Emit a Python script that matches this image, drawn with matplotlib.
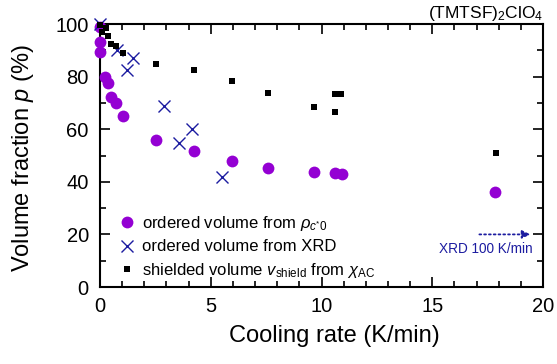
import numpy as np
import matplotlib.pyplot as plt
from matplotlib.ticker import MultipleLocator

plt.rcParams['font.family'] = ['Liberation Sans', 'DejaVu Sans']
plt.rcParams['mathtext.fontset'] = 'custom'
plt.rcParams['mathtext.rm'] = 'Liberation Sans'
plt.rcParams['mathtext.it'] = 'Liberation Sans:italic'

# ordered volume from rho (purple circles)
rate_rho = [0, 0, 0, 0.23, 0.36, 0.5, 0.72, 1.04, 2.51, 4.23, 5.96, 7.57, 9.65, 10.6, 10.93, 17.85]
p_rho = [99, 93, 89.5, 80, 77.5, 72.2, 70, 65, 56, 51.6, 48, 45.1, 43.7, 43.5, 42.8, 36.2]

# ordered volume from XRD (blue crosses)
rate_xrd = [0, 0.76, 1.2, 1.48, 2.9, 3.58, 4.17, 5.49]
p_xrd = [100, 90.3, 82.5, 87, 68.8, 54.9, 60, 41.9]

# shielded volume from chi_AC (black squares)
rate_chi = [0, 0.08, 0.27, 0.38, 0.5, 0.72, 1.05, 2.51, 4.23, 5.94, 7.57, 9.65, 10.6, 10.9, 10.6, 17.86]
p_chi = [99.6, 97, 98.4, 95.4, 92.3, 91.6, 89, 84.7, 82.4, 78.2, 73.6, 68.4, 73.4, 73.4, 66.7, 51.1]

purple = '#9400d3'
blue = '#1c1ca0'

fig = plt.figure(figsize=(5.57, 3.64), dpi=100)
ax = fig.add_axes([0.1795, 0.2115, 0.7955, 0.7225])

ax.plot(rate_rho, p_rho, 'o', color=purple, markersize=8.5, markeredgewidth=0,
        label=r'ordered volume from $\rho_{c^{*}0}$', clip_on=False, zorder=3)
ax.plot(rate_xrd, p_xrd, 'x', color=blue, markersize=9, markeredgewidth=1.0,
        label='ordered volume from XRD', clip_on=False, zorder=4)
ax.plot(rate_chi, p_chi, 's', color='black', markersize=5, markeredgewidth=0,
        label=r'shielded volume $v_{\mathrm{shield}}$ from $\chi_{\mathrm{AC}}$', clip_on=False, zorder=5)

ax.set_xlim(0, 20)
ax.set_ylim(0, 100)
ax.xaxis.set_major_locator(MultipleLocator(5))
ax.xaxis.set_minor_locator(MultipleLocator(1))
ax.yaxis.set_major_locator(MultipleLocator(20))
ax.yaxis.set_minor_locator(MultipleLocator(10))
ax.tick_params(which='both', direction='in', top=True, right=True, labelsize=14.5, width=1.2)
ax.tick_params(which='major', length=7)
ax.tick_params(which='minor', length=4)
ax.tick_params(axis='x', which='major', pad=7)
ax.tick_params(axis='y', which='major', pad=8)
for s in ax.spines.values():
    s.set_linewidth(1.5)

ax.set_xlabel('Cooling rate (K/min)', fontsize=17)
ax.set_ylabel('Volume fraction $p$ (%)', fontsize=17)
ax.xaxis.set_label_coords(0.53, -0.145)
ax.yaxis.set_label_coords(-0.145, 0.49)

ax.legend(loc='upper left', bbox_to_anchor=(0.0, 0.342), frameon=False, fontsize=12,
          handletextpad=0.3, handlelength=1.2, labelspacing=0.4, borderaxespad=0.6)

# arrow for 100 K/min XRD
ax.annotate('', xy=(19.55, 20), xytext=(17.0, 20),
            arrowprops=dict(arrowstyle='-|>', color=blue, linestyle=':', lw=1.3,
                            mutation_scale=12))
ax.text(19.55, 14.5, 'XRD 100 K/min', color=blue, fontsize=9.8, ha='right', va='center')

fig.text(0.975, 0.962, r'(TMTSF)$_2$ClO$_4$', ha='right', va='center', fontsize=12.5)

fig.savefig('out.png', dpi=100)
